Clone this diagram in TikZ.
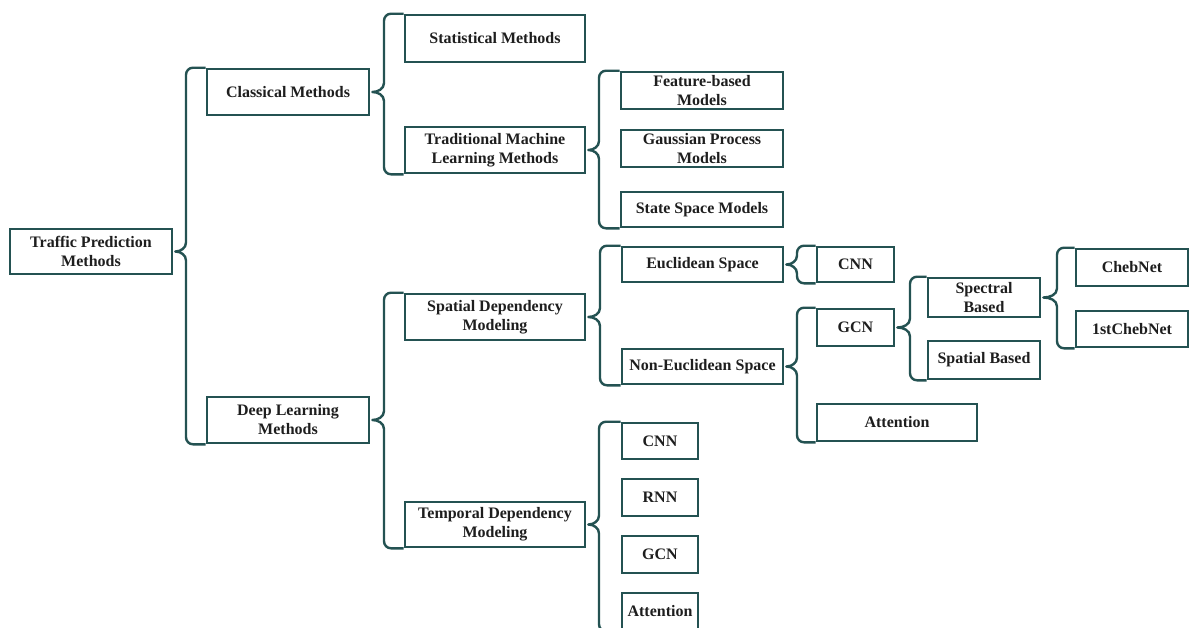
\documentclass[tikz,border=0pt]{standalone}
\usepackage{fontspec}
\setmainfont{Liberation Serif}
\usetikzlibrary{calc}

\definecolor{edge}{RGB}{36,82,82}
\definecolor{ink}{RGB}{30,30,30}

\tikzset{
  box/.style={draw=edge, line width=2.6pt, fill=white, inner sep=0pt,
    align=center, text=ink, font=\bfseries\fontsize{16}{19}\selectfont},
  fork/.style={draw=edge, line width=2.4pt, line join=round}
}

% box given by its left, top, right, bottom edges (y grows downwards)
\newcommand\bx[6]{%
  \node[box, minimum width={(#4-#2)*1pt}, minimum height={(#5-#3)*1pt}]
    (#1) at ({(#2+#4)/2},{-(#3+#5)/2}) {#6};}

% curly bracket from parent #1 to the children #2 (first) .. #3 (last),
% with its vertical stroke at x = #4
\newcommand\fork[4]{%
  \draw[fork] let \p1=(#1.east), \p2=(#2.north west), \p3=(#3.south west) in
    (\p2) -- (#4+7,\y2) to[out=180,in=90] (#4,\y2-7)
    -- (#4,\y1+9) to[out=-90,in=0] (\x1+2,\y1)
    to[out=0,in=90] (#4,\y1-9)
    -- (#4,\y3+7) to[out=-90,in=180] (#4+7,\y3) -- (\p3);}

\begin{document}
\begin{tikzpicture}[x=1pt, y=1pt]
  \clip (0,0) rectangle (1197,-627);
  \fill[white] (0,0) rectangle (1197,-627);

  % root and first level
  \bx{root}{10}{229}{172}{274}{Traffic Prediction\\Methods}
  \bx{classical}{207}{69}{369}{115}{Classical Methods}
  \bx{deep}{207}{397}{369}{443}{Deep Learning\\Methods}

  % classical branch
  \bx{stat}{405}{15}{585}{62}{Statistical Methods}
  \bx{tradml}{405}{127}{585}{173}{Traditional Machine\\Learning Methods}
  \bx{feat}{621}{72}{783}{109}{Feature-based\\Models}
  \bx{gauss}{621}{130}{783}{167}{Gaussian Process\\Models}
  \bx{state}{621}{192}{783}{227}{State Space Models}

  % deep learning branch
  \bx{spatdep}{405}{294}{585}{340}{Spatial Dependency\\Modeling}
  \bx{tempdep}{405}{502}{585}{547}{Temporal Dependency\\Modeling}

  \bx{eucl}{622}{247}{783}{282}{Euclidean Space}
  \bx{cnnA}{817}{247}{894}{282}{CNN}
  \bx{noneucl}{622}{349}{783}{384}{Non-Euclidean Space}
  \bx{gcnA}{817}{309}{894}{346}{GCN}
  \bx{attnA}{817}{404}{977}{441}{Attention}
  \bx{spectral}{928}{278}{1040}{317}{Spectral\\Based}
  \bx{spatialb}{928}{341}{1040}{379}{Spatial Based}
  \bx{cheb}{1076}{249}{1188}{286}{ChebNet}
  \bx{firstcheb}{1076}{311}{1188}{347}{1stChebNet}

  \bx{cnnB}{622}{423}{698}{459}{CNN}
  \bx{rnnB}{622}{479}{698}{516}{RNN}
  \bx{gcnB}{622}{536}{698}{573}{GCN}
  \bx{attnB}{622}{593}{698}{630}{Attention}

  % brackets
  \fork{root}{classical}{deep}{186}
  \fork{classical}{stat}{tradml}{384}
  \fork{tradml}{feat}{state}{599}
  \fork{deep}{spatdep}{tempdep}{384}
  \fork{spatdep}{eucl}{noneucl}{600}
  \fork{tempdep}{cnnB}{attnB}{599}
  \fork{eucl}{cnnA}{cnnA}{797}
  \fork{noneucl}{gcnA}{attnA}{797}
  \fork{gcnA}{spectral}{spatialb}{910}
  \fork{spectral}{cheb}{firstcheb}{1057}
\end{tikzpicture}
\end{document}
